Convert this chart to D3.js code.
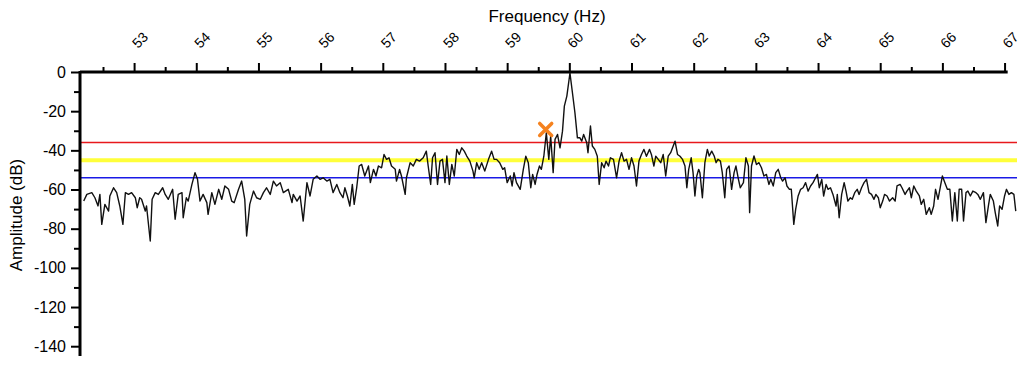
<!DOCTYPE html>
<html><head><meta charset="utf-8">
<script src="https://cdn.jsdelivr.net/npm/d3@7"></script>
<style>html,body{margin:0;padding:0;background:#fff;} svg{display:block;font-family:"Liberation Sans",Arial,sans-serif;}</style>
</head><body><svg id="chart" width="1034" height="368"></svg>
<script>
const freqs = [
52.19,52.24,52.32,52.37,52.42,52.45,52.48,52.53,52.59,52.61,
52.67,52.72,52.77,52.82,52.86,52.91,52.96,53.02,53.05,53.09,
53.12,53.18,53.20,53.26,53.29,53.34,53.39,53.46,53.50,53.55,
53.62,53.66,53.71,53.77,53.79,53.84,53.87,53.93,53.98,54.02,
54.06,54.11,54.17,54.19,54.25,54.30,54.36,54.41,54.46,54.52,
54.57,54.61,54.68,54.73,54.78,54.81,54.86,54.92,54.97,55.03,
55.08,55.13,55.19,55.24,55.29,55.35,55.40,55.48,55.54,55.56,
55.62,55.67,55.72,55.78,55.83,55.88,55.94,55.99,56.04,56.10,
56.15,56.20,56.26,56.31,56.36,56.39,56.43,56.47,56.51,56.54,
56.58,56.62,56.66,56.71,56.77,56.80,56.85,56.89,56.93,56.98,
57.02,57.06,57.10,57.14,57.20,57.22,57.27,57.30,57.36,57.38,
57.44,57.49,57.54,57.59,57.65,57.70,57.73,57.77,57.80,57.84,
57.88,57.92,57.96,58.00,58.03,58.07,58.11,58.15,58.19,58.23,
58.27,58.31,58.35,58.40,58.45,58.47,58.51,58.55,58.59,58.64,
58.70,58.75,58.79,58.83,58.88,58.93,58.96,59.00,59.05,59.08,
59.11,59.15,59.21,59.26,59.30,59.34,59.38,59.41,59.45,59.48,
59.52,59.55,59.59,59.63,59.67,59.70,59.74,59.77,59.81,59.85,
59.89,59.92,59.96,60.01,60.05,60.09,60.13,60.17,60.20,60.23,
60.28,60.30,60.34,60.37,60.41,60.45,60.48,60.52,60.56,60.59,
60.63,60.66,60.71,60.76,60.80,60.84,60.88,60.92,60.96,61.00,
61.04,61.08,61.12,61.16,61.20,61.24,61.29,61.32,61.36,61.39,
61.43,61.47,61.51,61.55,61.59,61.63,61.66,61.70,61.74,61.78,
61.82,61.86,61.89,61.92,61.96,61.99,62.02,62.05,62.08,62.10,
62.14,62.18,62.22,62.25,62.29,62.33,62.36,62.39,62.43,62.46,
62.50,62.53,62.57,62.61,62.65,62.68,62.72,62.75,62.80,62.84,
62.88,62.90,62.93,62.97,63.01,63.05,63.09,63.13,63.17,63.21,
63.24,63.28,63.32,63.36,63.40,63.43,63.47,63.50,63.54,63.57,
63.61,63.64,63.68,63.72,63.76,63.80,63.84,63.88,63.92,63.96,
63.99,64.02,64.06,64.09,64.13,64.16,64.20,64.24,64.29,64.31,
64.34,64.38,64.42,64.45,64.48,64.52,64.55,64.59,64.63,64.66,
64.70,64.74,64.78,64.82,64.86,64.90,64.93,64.97,65.00,65.04,
65.07,65.11,65.15,65.20,65.24,65.27,65.32,65.35,65.40,65.43,
65.47,65.50,65.54,65.58,65.63,65.66,65.70,65.74,65.79,65.82,
65.86,65.89,65.93,65.97,66.00,66.04,66.08,66.12,66.16,66.20,
66.24,66.27,66.31,66.34,66.38,66.41,66.45,66.49,66.54,66.57,
66.61,66.66,66.70,66.74,66.77,66.82,66.85,66.89,66.92,66.96,
67.00,67.03,67.07,67.11,67.15,67.18
];
const amps = [
-65.9,-62.5,-61.6,-64.2,-68.4,-62.5,-77.8,-67.6,-71.0,-63.3,
-59.1,-61.6,-68.4,-77.8,-61.6,-62.5,-61.6,-64.2,-69.3,-64.2,
-65.0,-71.0,-68.4,-86.3,-65.0,-61.6,-62.5,-59.1,-62.5,-65.0,
-59.9,-75.2,-62.5,-61.6,-74.4,-64.2,-65.9,-57.4,-51.4,-54.8,
-65.9,-62.5,-66.7,-72.7,-61.6,-67.6,-59.9,-65.0,-58.2,-59.9,
-65.9,-66.7,-59.9,-55.7,-65.0,-83.7,-67.6,-60.8,-64.2,-65.0,
-61.6,-59.1,-62.5,-55.7,-58.2,-56.5,-61.6,-59.9,-66.7,-62.5,
-65.9,-63.3,-76.1,-56.5,-63.3,-54.8,-53.1,-54.8,-54.0,-55.7,
-54.8,-61.6,-57.4,-61.6,-64.2,-59.1,-63.3,-68.4,-57.4,-67.6,
-59.1,-48.0,-47.2,-53.1,-48.0,-56.5,-49.7,-53.1,-48.0,-48.9,
-42.1,-44.6,-43.8,-48.0,-49.7,-55.7,-49.7,-53.1,-62.5,-54.0,
-46.3,-48.0,-44.6,-45.5,-43.8,-40.4,-48.0,-57.4,-43.8,-41.2,
-57.4,-45.5,-44.6,-56.5,-42.9,-57.4,-47.2,-53.1,-39.5,-42.1,
-38.7,-40.4,-42.9,-45.5,-50.6,-54.0,-46.3,-49.7,-46.3,-50.6,
-44.6,-40.4,-44.6,-44.6,-46.3,-49.7,-48.9,-56.5,-53.1,-58.2,
-51.4,-56.5,-59.9,-49.7,-43.0,-46.3,-59.1,-52.3,-57.4,-52.3,
-48.0,-49.7,-43.0,-31.0,-44.6,-32.7,-51.4,-34.4,-31.9,-38.7,
-30.2,-17.4,-12.3,-0.5,-10.6,-20.8,-33.6,-33.6,-35.3,-31.9,
-36.1,-41.2,-27.6,-37.8,-39.5,-43.0,-57.4,-46.3,-48.9,-45.5,
-48.0,-43.8,-44.6,-54.0,-45.5,-41.2,-45.5,-44.6,-49.7,-43.8,
-48.0,-58.2,-45.5,-42.1,-39.5,-43.0,-39.5,-42.1,-48.0,-43.0,
-44.6,-46.3,-42.1,-53.1,-43.0,-41.2,-38.7,-35.3,-42.1,-43.0,
-44.6,-48.0,-59.1,-49.7,-43.8,-51.4,-63.3,-53.1,-49.7,-51.4,
-64.2,-46.3,-39.5,-42.9,-40.4,-42.9,-46.3,-44.6,-45.5,-51.4,
-64.2,-49.7,-48.0,-59.9,-51.4,-48.0,-54.8,-59.1,-56.5,-43.8,
-48.0,-71.8,-48.0,-42.9,-47.2,-46.3,-48.9,-53.1,-52.3,-57.4,
-54.8,-58.2,-51.4,-49.7,-54.0,-55.7,-54.0,-58.2,-59.9,-59.9,
-77.8,-70.1,-63.3,-59.9,-59.1,-56.5,-60.8,-58.2,-56.5,-54.0,
-52.3,-59.1,-54.8,-63.3,-57.4,-59.9,-59.1,-62.5,-68.4,-62.5,
-74.4,-62.5,-56.5,-60.8,-65.9,-64.2,-65.0,-61.6,-59.9,-62.5,
-59.1,-56.5,-54.8,-61.6,-62.5,-65.0,-62.5,-64.2,-69.3,-65.9,
-62.5,-63.3,-65.9,-64.2,-65.9,-58.2,-57.4,-59.1,-62.5,-60.8,
-59.1,-64.2,-58.2,-60.8,-63.3,-67.6,-65.0,-72.7,-69.3,-72.7,
-68.4,-59.9,-65.0,-58.2,-53.1,-56.5,-59.9,-59.9,-76.1,-61.6,
-76.1,-59.9,-59.9,-76.1,-61.6,-60.8,-63.3,-60.8,-61.6,-62.5,
-65.0,-61.6,-76.9,-68.4,-62.5,-65.9,-71.8,-78.6,-68.4,-70.1,
-63.3,-59.9,-62.5,-61.6,-62.5,-71.0
];
const xMajorTicks = [53,54,55,56,57,58,59,60,61,62,63,64,65,66,67];
const xMinorTicks = [52.5,53.5,54.5,55.5,56.5,57.5,58.5,59.5,60.5,61.5,62.5,63.5,64.5,65.5,66.5];
const yMajorTicks = [0,-20,-40,-60,-80,-100,-120,-140];
const yMinorTicks = [-10,-30,-50,-70,-90,-110,-130];
const refLevels = [-36,-45,-54];
const refColors = ["#e8191c","#ffff3a","#1a1ae6"];
const refWidths = [1.5,4,1.5];
const markerFreq = [59.62];
const markerAmp = [-29.3];

const svg = d3.select("#chart");
const x = d3.scaleLinear().domain([52.13, 67.2]).range([80, 1017]);
const y = d3.scaleLinear().domain([0, -145]).range([72, 356]);

// reference lines
svg.append("g").selectAll("line").data(refLevels).join("line")
  .attr("x1", x(52.13)).attr("x2", x(67.2))
  .attr("y1", d => y(d)).attr("y2", d => y(d))
  .attr("stroke", (d,i) => refColors[i]).attr("stroke-width", (d,i) => refWidths[i]);

// trace
const pts = freqs.map((f,i) => [f, amps[i]]);
svg.append("path").datum(pts)
  .attr("fill","none").attr("stroke","#111").attr("stroke-width",1.4)
  .attr("stroke-linejoin","round")
  .attr("d", d3.line().x(d => x(d[0])).y(d => y(d[1])));

// top axis
const gx = svg.append("g").attr("transform", `translate(0,${y(0)})`);
gx.append("g").call(d3.axisTop(x).tickValues(xMajorTicks).tickSize(9).tickFormat(() => ""))
  .call(g => g.select(".domain").remove())
  .call(g => g.selectAll("line").attr("stroke","#000").attr("stroke-width",2));
gx.append("g").call(d3.axisTop(x).tickValues(xMinorTicks).tickSize(5).tickFormat(() => ""))
  .call(g => g.select(".domain").remove())
  .call(g => g.selectAll("line").attr("stroke","#000").attr("stroke-width",2));
gx.append("line").attr("x1", x(52.13)).attr("x2", x(67.05)).attr("y1",0).attr("y2",0)
  .attr("stroke","#000").attr("stroke-width",3);
svg.append("g").selectAll("text").data(xMajorTicks).join("text")
  .attr("transform", d => `translate(${x(d)+6},40) rotate(-45)`)
  .attr("text-anchor","middle").attr("dy","0.35em")
  .attr("font-size",14).attr("fill","#000").text(d => d);

// left axis
const gy = svg.append("g").attr("transform", `translate(${x(52.13)},0)`);
gy.append("g").call(d3.axisLeft(y).tickValues(yMajorTicks).tickSize(9).tickFormat(() => ""))
  .call(g => g.select(".domain").remove())
  .call(g => g.selectAll("line").attr("stroke","#000").attr("stroke-width",2));
gy.append("g").call(d3.axisLeft(y).tickValues(yMinorTicks).tickSize(6).tickFormat(() => ""))
  .call(g => g.select(".domain").remove())
  .call(g => g.selectAll("line").attr("stroke","#000").attr("stroke-width",2));
gy.append("line").attr("x1",0).attr("x2",0).attr("y1", y(0)-1).attr("y2", y(-145))
  .attr("stroke","#000").attr("stroke-width",3);
svg.append("g").selectAll("text").data(yMajorTicks).join("text")
  .attr("x", 66).attr("y", d => y(d)).attr("dy","0.35em")
  .attr("text-anchor","end").attr("font-size",16).attr("fill","#000").text(d => d);

// titles
svg.append("text").attr("x", 547).attr("y", 22).attr("text-anchor","middle")
  .attr("font-size",17).attr("fill","#000").text("Frequency (Hz)");
svg.append("text").attr("transform","translate(22,215) rotate(-90)").attr("text-anchor","middle")
  .attr("font-size",17).attr("fill","#000").text("Amplitude (dB)");

// marker
const mk = svg.append("g").selectAll("g").data(markerFreq).join("g")
  .attr("transform", (d,i) => `translate(${x(d)},${y(markerAmp[i])})`);
mk.append("path").attr("d","M-6,-6L6,6M-6,6L6,-6")
  .attr("stroke","#f5821f").attr("stroke-width",3.5).attr("stroke-linecap","round");
</script></body></html>
